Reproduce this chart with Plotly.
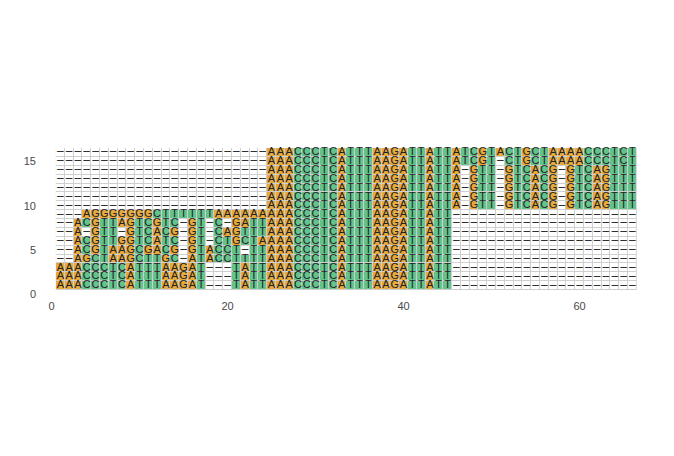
import plotly.graph_objects as go

# Alignment rows, listed from the top row (y=16) down to the bottom row (y=1)
sequences = [
    "------------------------" "AAACCCTCATTTAAGATTATT" "ATCGTACTGCTAAAACCCTCT",
    "------------------------" "AAACCCTCATTTAAGATTATT" "ATCGT-CTGCTAAAACCCTCT",
    "------------------------" "AAACCCTCATTTAAGATTATT" "A-GTT-GTCACG-GTCAGTTT",
    "------------------------" "AAACCCTCATTTAAGATTATT" "A-GTT-GTCACG-GTCAGTTT",
    "------------------------" "AAACCCTCATTTAAGATTATT" "A-GTT-GTCACG-GTCAGTTT",
    "------------------------" "AAACCCTCATTTAAGATTATT" "A-GTT-GTCACG-GTCAGTTT",
    "------------------------" "AAACCCTCATTTAAGATTATT" "A-GTT-GTCACG-GTCAGTTT",
    "---AGGGGGGGCTTTTTTAAAAAA" "AAACCCTCATTTAAGATTATT" "---------------------",
    "--ACGTTAGTCGTC-GT-C-GATT" "AAACCCTCATTTAAGATTATT" "---------------------",
    "--A-GTT-GTCACG-GT-CAGTTT" "AAACCCTCATTTAAGATTATT" "---------------------",
    "--ACGTTGGTCATC-GT-CTGCTA" "AAACCCTCATTTAAGATTATT" "---------------------",
    "--ACGTAAGCGACG-GTACCT-TT" "AAACCCTCATTTAAGATTATT" "---------------------",
    "--AGCTAAGCTTGC-ATACCTTTT" "AAACCCTCATTTAAGATTATT" "---------------------",
    "AAACCCTCATTTAAGAT---TATT" "AAACCCTCATTTAAGATTATT" "---------------------",
    "AAACCCTCATTTAAGAT---TATT" "AAACCCTCATTTAAGATTATT" "---------------------",
    "AAACCCTCATTTAAGAT---TATT" "AAACCCTCATTTAAGATTATT" "---------------------",
]
x_tick_vals = [0, 20, 40, 60]
y_tick_vals = [0, 5, 10, 15]

base_code = {"A": 1, "G": 1, "C": 2, "T": 2, "-": 0}
ORANGE = "#E8A93B"
GREEN = "#63C48B"
CELL_BORDER = "#cfcfcf"

n_rows = len(sequences)
n_cols = len(sequences[0])
for s in sequences:
    assert len(s) == n_cols, len(s)

xs = list(range(1, n_cols + 1))
ys = [n_rows - i for i in range(n_rows)]
z = [[base_code[c] for c in s] for s in sequences]

fig = go.Figure()
fig.add_shape(type="rect", x0=0.5, x1=n_cols + 0.5, y0=0.5, y1=n_rows + 0.5,
              fillcolor=CELL_BORDER, line_width=0, layer="below")
fig.add_trace(go.Heatmap(
    x=xs, y=ys, z=z, zmin=0, zmax=2,
    colorscale=[[0, "white"], [0.5, ORANGE], [1, GREEN]],
    showscale=False, xgap=1, ygap=1, hoverinfo="skip"))

lx, ly, lt, gx, gy = [], [], [], [], []
for s, yv in zip(sequences, ys):
    for xv, c in zip(xs, s):
        if c == "-":
            gx.append(xv); gy.append(yv)
        else:
            lx.append(xv); ly.append(yv); lt.append(c)

fig.add_trace(go.Scatter(x=lx, y=ly, text=lt, mode="text",
                         textfont=dict(family="Liberation Sans, Arial", size=11, color="#222"),
                         hoverinfo="skip", showlegend=False))
fig.add_trace(go.Scatter(x=gx, y=gy, text=["\u2013"] * len(gx), mode="text",
                         textfont=dict(family="Liberation Sans, Arial", size=12, color="#222"),
                         hoverinfo="skip", showlegend=False))

tickfont = dict(family="Liberation Sans, Arial", size=11, color="#4a4a4a")
fig.update_layout(
    template="none",
    width=674, height=456,
    margin=dict(l=50, r=37, t=147, b=159),
    paper_bgcolor="white", plot_bgcolor="white",
    showlegend=False,
    font=dict(family="Liberation Sans, Arial", size=11, color="#4a4a4a"),
    xaxis=dict(range=[-0.17, 66.53], tickvals=x_tick_vals, showgrid=False,
               zeroline=False, showline=False, ticks="", tickfont=tickfont,
               ticklabelstandoff=1),
    yaxis=dict(range=[-0.29, 16.61], tickvals=y_tick_vals, showgrid=False,
               zeroline=False, showline=False, ticks="", tickfont=tickfont,
               ticklabelstandoff=13),
)
fig.write_html("out.html")
